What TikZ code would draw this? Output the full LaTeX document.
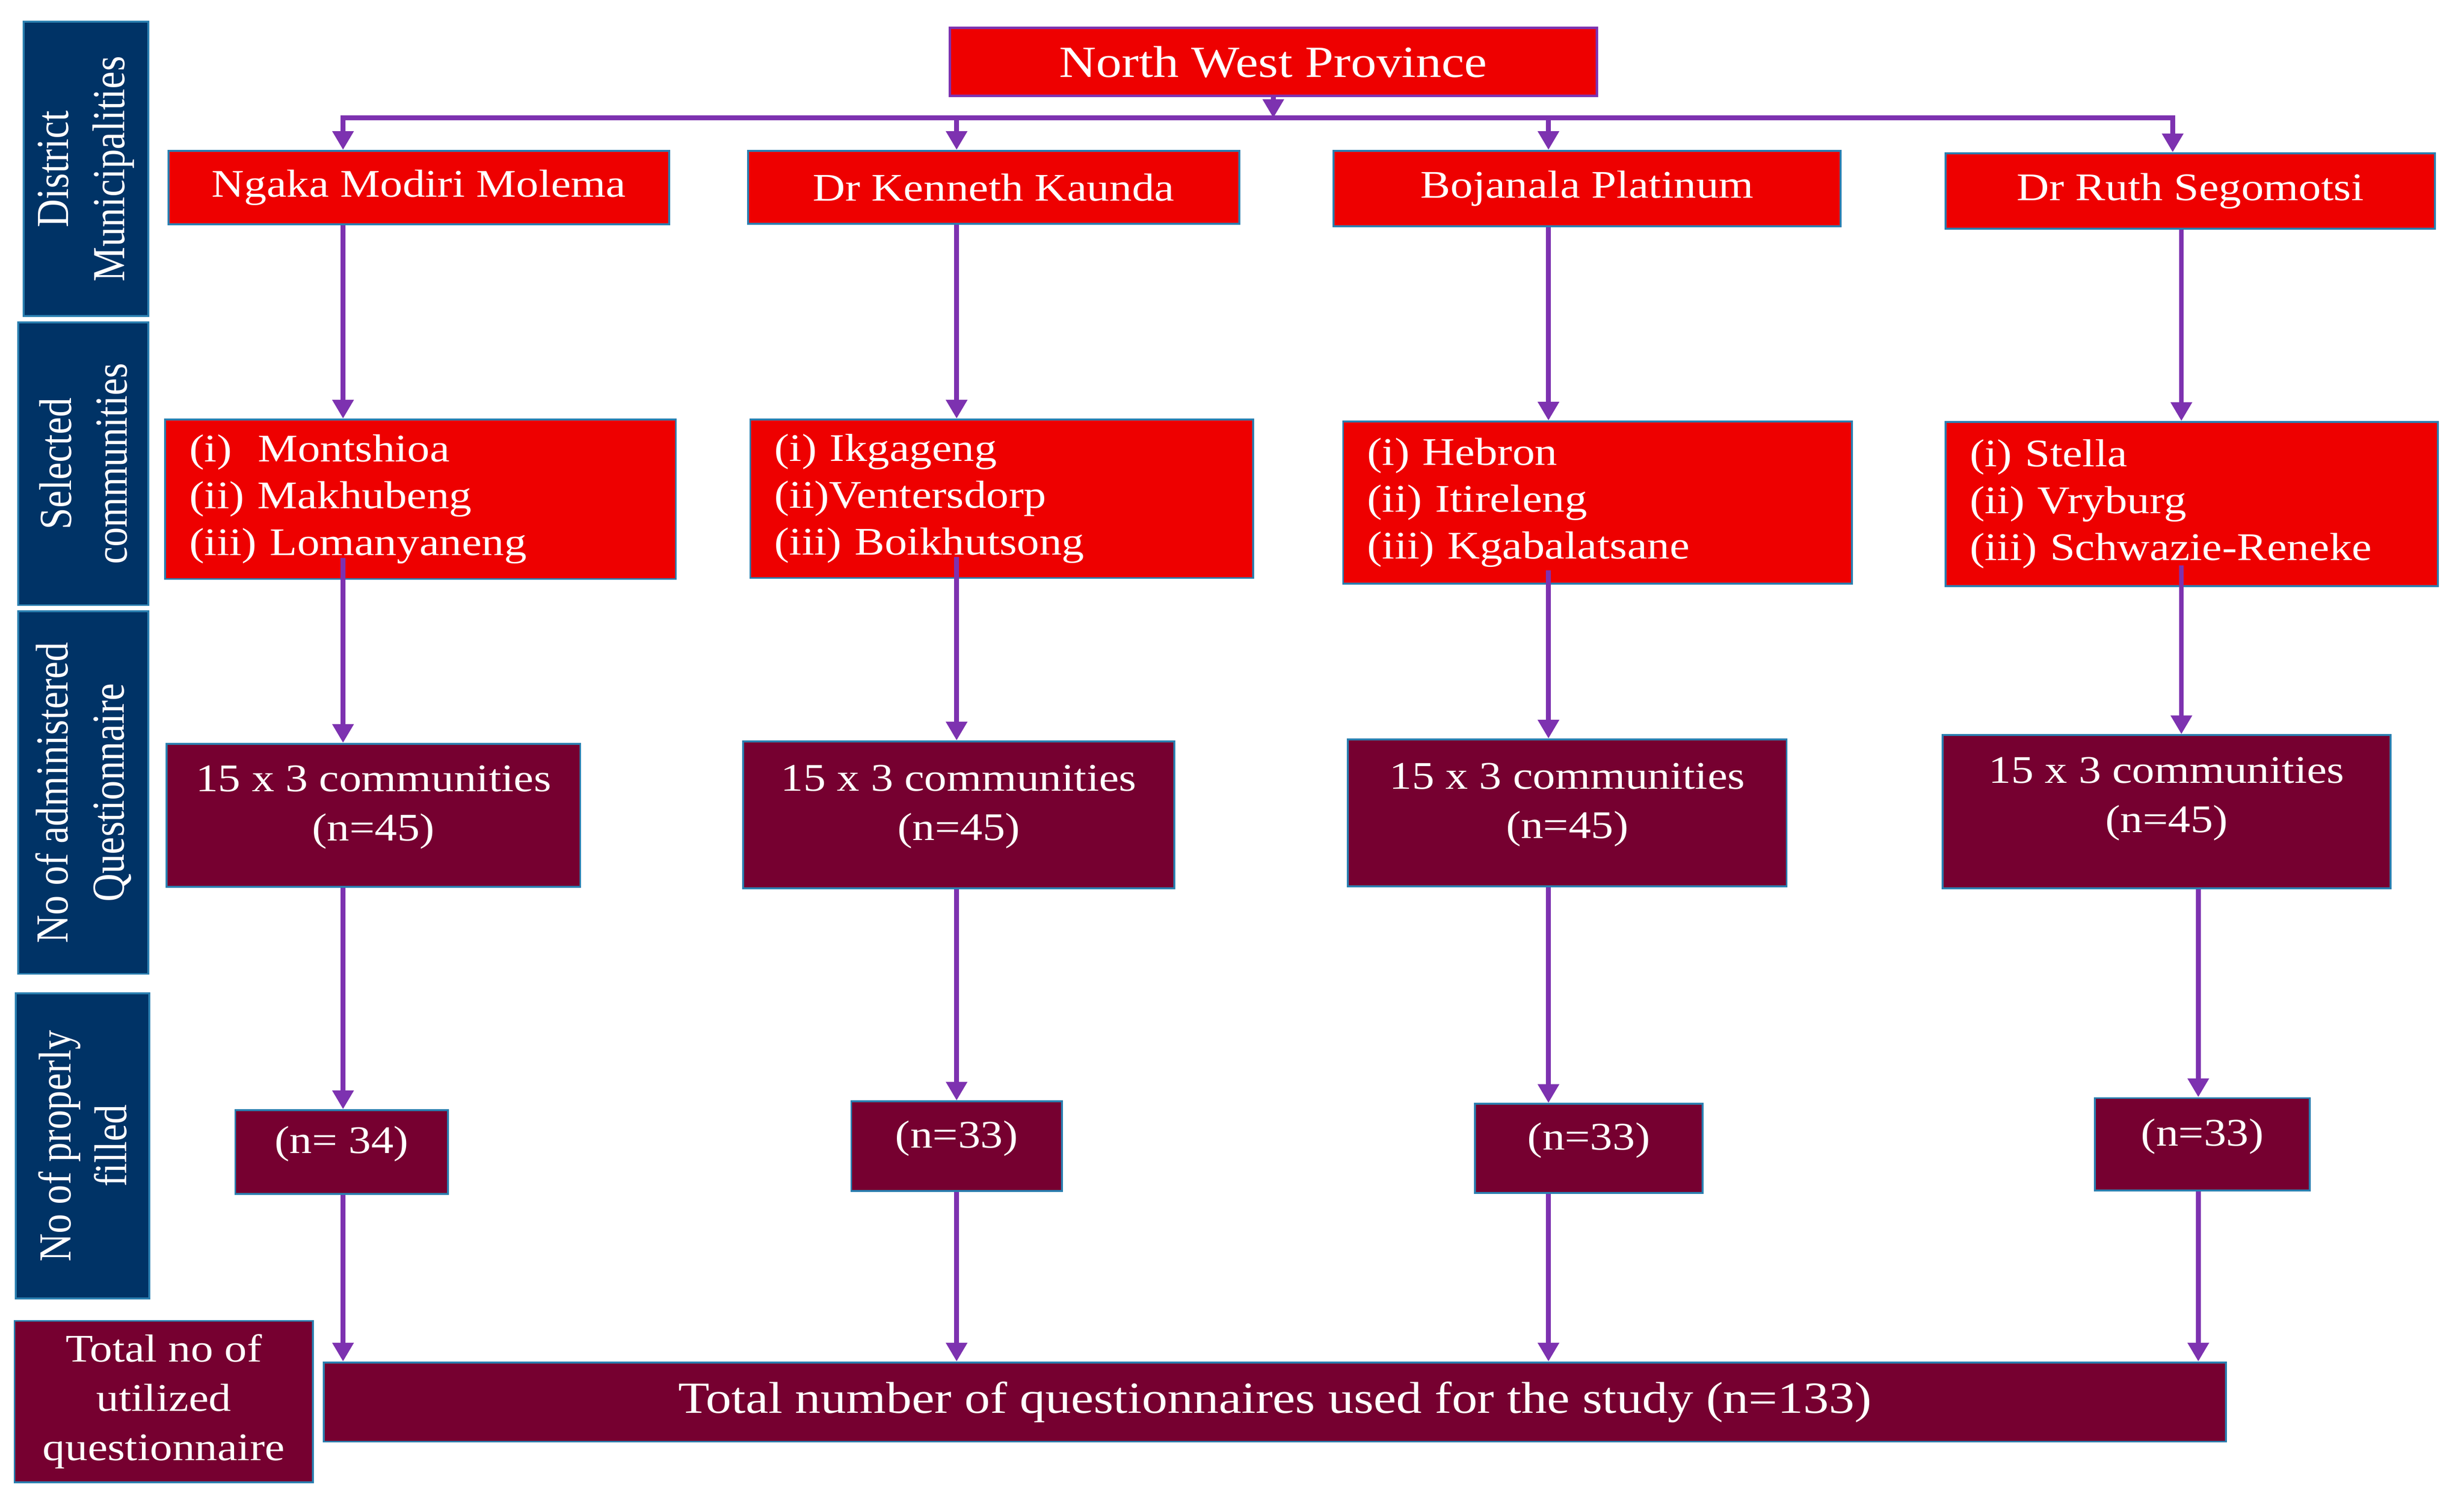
\documentclass[tikz,border=0pt]{standalone}
\usepackage{fontspec}
\setmainfont{Liberation Serif}
\newfontfamily\boxfont[FakeStretch=1.15]{Liberation Serif}
\newfontfamily\sidefont[FakeStretch=0.85]{Liberation Serif}
\usetikzlibrary{arrows.meta}

\definecolor{boxred}{HTML}{EE0000}
\definecolor{boxwine}{HTML}{760030}
\definecolor{sideblue}{HTML}{003366}
\definecolor{boxline}{HTML}{2A7FB0}
\definecolor{arrpurple}{HTML}{7D32B0}

\tikzset{
  box/.style={draw=boxline, line width=1.1pt, text=white, inner sep=0pt, align=center},
  redbox/.style={box, fill=boxred, font=\boxfont\fontsize{23}{27.5}\selectfont},
  listbox/.style={redbox, align=left, inner xsep=5mm},
  winebox/.style={box, fill=boxwine, font=\boxfont\fontsize{23}{29}\selectfont},
  raised/.style={text depth=#1},
  sidebox/.style={box, fill=sideblue, rotate=90, font=\sidefont\fontsize{27}{33}\selectfont},
  arr/.style={draw=arrpurple, line width=2.8pt, -{Triangle[length=11pt,width=12pt]}},
}

\begin{document}
\begin{tikzpicture}
\fill[white] (0,0) rectangle (51,-31.14);
\useasboundingbox (0,0) rectangle (51,-31.14);

%SIDE LABELS
\node[sidebox, minimum width=6.09cm, minimum height=2.58cm] (l1) at (1.78,-3.495) {District\\Municipalities};
\node[sidebox, minimum width=5.85cm, minimum height=2.69cm] (l2) at (1.725,-9.595) {Selected\\communities};
\node[sidebox, minimum width=7.50cm, minimum height=2.69cm] (l3) at (1.725,-16.40) {No of administered\\Questionnaire};
\node[sidebox, minimum width=6.32cm, minimum height=2.76cm] (l4) at (1.71,-23.71) {No of properly\\filled};
\node[winebox, minimum width=6.18cm, minimum height=3.34cm] (tlab) at (3.39,-29.00) {Total no of\\utilized\\questionnaire};

%PROVINCE
\node[redbox, draw=arrpurple, line width=1.4pt, minimum width=13.39cm, minimum height=1.40cm,
  font=\boxfont\fontsize{26.2}{30}\selectfont] (nwp) at (26.355,-1.28) {North West Province};

%DISTRICTS
\node[redbox, minimum width=10.36cm, minimum height=1.52cm] (d1) at (8.67,-3.88) {Ngaka Modiri Molema};
\node[redbox, minimum width=10.17cm, minimum height=1.51cm] (d2) at (20.565,-3.875) {Dr Kenneth Kaunda};
\node[redbox, minimum width=10.50cm, minimum height=1.56cm] (d3) at (32.85,-3.90) {Bojanala Platinum};
\node[redbox, minimum width=10.13cm, minimum height=1.56cm] (d4) at (45.335,-3.95) {Dr Ruth Segomotsi};

%COMMUNITIES
\node[listbox, text width=9.57cm, minimum height=3.30cm] (s1) at (8.705,-10.33)
  {(i)\ \ Montshioa\\(ii) Makhubeng\\(iii) Lomanyaneng};
\node[listbox, text width=9.41cm, minimum height=3.28cm] (s2) at (20.735,-10.32)
  {(i) Ikgageng\\(ii)Ventersdorp\\(iii) Boikhutsong};
\node[listbox, text width=9.53cm, minimum height=3.36cm] (s3) at (33.065,-10.40)
  {(i) Hebron\\(ii) Itireleng\\(iii) Kgabalatsane};
\node[listbox, text width=9.19cm, minimum height=3.40cm] (s4) at (45.365,-10.43)
  {(i) Stella\\(ii) Vryburg\\(iii) Schwazie-Reneke};

%ADMINISTERED
\node[winebox, raised=5mm, minimum width=8.56cm, minimum height=2.96cm] (q1) at (7.73,-16.87) {15 x 3 communities\\(n=45)};
\node[winebox, raised=5mm, minimum width=8.93cm, minimum height=3.04cm] (q2) at (19.845,-16.86) {15 x 3 communities\\(n=45)};
\node[winebox, raised=5mm, minimum width=9.08cm, minimum height=3.04cm] (q3) at (32.44,-16.82) {15 x 3 communities\\(n=45)};
\node[winebox, raised=7mm, minimum width=9.27cm, minimum height=3.17cm] (q4) at (44.845,-16.795) {15 x 3 communities\\(n=45)};

%FILLED
\node[winebox, raised=5mm, minimum width=4.40cm, minimum height=1.73cm] (f1) at (7.07,-23.835) {(n= 34)};
\node[winebox, raised=5mm, minimum width=4.36cm, minimum height=1.85cm] (f2) at (19.80,-23.715) {(n=33)};
\node[winebox, raised=5mm, minimum width=4.71cm, minimum height=1.84cm] (f3) at (32.885,-23.76) {(n=33)};
\node[winebox, raised=5mm, minimum width=4.45cm, minimum height=1.91cm] (f4) at (45.585,-23.675) {(n=33)};

%TOTAL
\node[winebox, minimum width=39.37cm, minimum height=1.64cm,
  font=\boxfont\fontsize{26.2}{30}\selectfont] (tot) at (26.385,-29.01)
  {Total number of questionnaires used for the study (n=133)};

%ARROWS
\coordinate (bus) at (26.29,-2.44);
\coordinate (c1) at (7.1,0);
\coordinate (c2) at (19.8,0);
\coordinate (c3) at (32.05,0);
\coordinate (c4t) at (44.97,0);
\coordinate (c4) at (45.15,0);
\coordinate (c4b) at (45.5,0);

\draw[arr] (nwp.south) -- (nwp.south |- bus);
\draw[arr] (bus) -| (d1.north -| c1);
\draw[arr] (bus) -| (d4.north -| c4t);
\draw[arr] (bus -| c2) -- (d2.north -| c2);
\draw[arr] (bus -| c3) -- (d3.north -| c3);

\draw[arr] (d1.south -| c1) -- (s1.north -| c1);
\draw[arr] (d2.south -| c2) -- (s2.north -| c2);
\draw[arr] (d3.south -| c3) -- (s3.north -| c3);
\draw[arr] (d4.south -| c4) -- (s4.north -| c4);

\draw[arr] ([yshift=4.5mm]s1.south -| c1) -- (q1.north -| c1);
\draw[arr] ([yshift=4.5mm]s2.south -| c2) -- (q2.north -| c2);
\draw[arr] ([yshift=3mm]s3.south -| c3) -- (q3.north -| c3);
\draw[arr] ([yshift=4.5mm]s4.south -| c4) -- (q4.north -| c4);

\draw[arr] (q1.south -| c1) -- (f1.north -| c1);
\draw[arr] (q2.south -| c2) -- (f2.north -| c2);
\draw[arr] (q3.south -| c3) -- (f3.north -| c3);
\draw[arr] (q4.south -| c4b) -- (f4.north -| c4b);

\draw[arr] (f1.south -| c1) -- (tot.north -| c1);
\draw[arr] (f2.south -| c2) -- (tot.north -| c2);
\draw[arr] (f3.south -| c3) -- (tot.north -| c3);
\draw[arr] (f4.south -| c4b) -- (tot.north -| c4b);
\end{tikzpicture}
\end{document}
